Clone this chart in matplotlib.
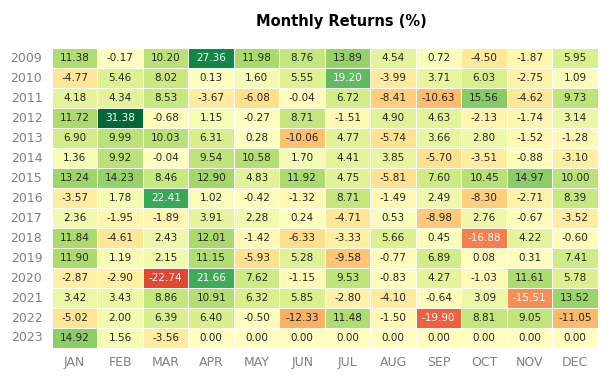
import numpy as np
import pandas as pd
import matplotlib
matplotlib.use("Agg")
import matplotlib.pyplot as plt
import seaborn as sns

years = [2009, 2010, 2011, 2012, 2013, 2014, 2015, 2016,
         2017, 2018, 2019, 2020, 2021, 2022, 2023]
months = ['JAN', 'FEB', 'MAR', 'APR', 'MAY', 'JUN',
          'JUL', 'AUG', 'SEP', 'OCT', 'NOV', 'DEC']

r2009 = [11.38, -0.17, 10.20, 27.36, 11.98, 8.76, 13.89, 4.54, 0.72, -4.50, -1.87, 5.95]
r2010 = [-4.77, 5.46, 8.02, 0.13, 1.60, 5.55, 19.20, -3.99, 3.71, 6.03, -2.75, 1.09]
r2011 = [4.18, 4.34, 8.53, -3.67, -6.08, -0.04, 6.72, -8.41, -10.63, 15.56, -4.62, 9.73]
r2012 = [11.72, 31.38, -0.68, 1.15, -0.27, 8.71, -1.51, 4.90, 4.63, -2.13, -1.74, 3.14]
r2013 = [6.90, 9.99, 10.03, 6.31, 0.28, -10.06, 4.77, -5.74, 3.66, 2.80, -1.52, -1.28]
r2014 = [1.36, 9.92, -0.04, 9.54, 10.58, 1.70, 4.41, 3.85, -5.70, -3.51, -0.88, -3.10]
r2015 = [13.24, 14.23, 8.46, 12.90, 4.83, 11.92, 4.75, -5.81, 7.60, 10.45, 14.97, 10.00]
r2016 = [-3.57, 1.78, 22.41, 1.02, -0.42, -1.32, 8.71, -1.49, 2.49, -8.30, -2.71, 8.39]
r2017 = [2.36, -1.95, -1.89, 3.91, 2.28, 0.24, -4.71, 0.53, -8.98, 2.76, -0.67, -3.52]
r2018 = [11.84, -4.61, 2.43, 12.01, -1.42, -6.33, -3.33, 5.66, 0.45, -16.88, 4.22, -0.60]
r2019 = [11.90, 1.19, 2.15, 11.15, -5.93, 5.28, -9.58, -0.77, 6.89, 0.08, 0.31, 7.41]
r2020 = [-2.87, -2.90, -22.74, 21.66, 7.62, -1.15, 9.53, -0.83, 4.27, -1.03, 11.61, 5.78]
r2021 = [3.42, 3.43, 8.86, 10.91, 6.32, 5.85, -2.80, -4.10, -0.64, 3.09, -15.51, 13.52]
r2022 = [-5.02, 2.00, 6.39, 6.40, -0.50, -12.33, 11.48, -1.50, -19.90, 8.81, 9.05, -11.05]
r2023 = [14.92, 1.56, -3.56, 0.00, 0.00, 0.00, 0.00, 0.00, 0.00, 0.00, 0.00, 0.00]

rows = [r2009, r2010, r2011, r2012, r2013, r2014, r2015, r2016,
        r2017, r2018, r2019, r2020, r2021, r2022, r2023]
df = pd.DataFrame(rows, index=years, columns=months)

fig = plt.figure(figsize=(6.11, 3.83), dpi=100)
ax = fig.add_axes([0.0851, 0.0914, 0.8936, 0.783])

# diverging colours centred on zero, like the original returns heatmap
sns.heatmap(df, ax=ax, annot=True, fmt='0.2f', center=0, cmap='RdYlGn',
            linewidths=0.5, cbar=False, annot_kws={'size': 7.5})

ax.set_title('Monthly Returns (%)', fontsize=10.5, fontweight='bold',
             pad=16, x=0.53)
ax.set_xlabel('')
ax.set_ylabel('')
ax.tick_params(axis='both', length=0, labelsize=9, colors='#808080')
ax.tick_params(axis='x', pad=6)
ax.tick_params(axis='y', pad=7)
plt.yticks(rotation=0)
plt.xticks(rotation=0)

fig.savefig('out.png', dpi=100)
